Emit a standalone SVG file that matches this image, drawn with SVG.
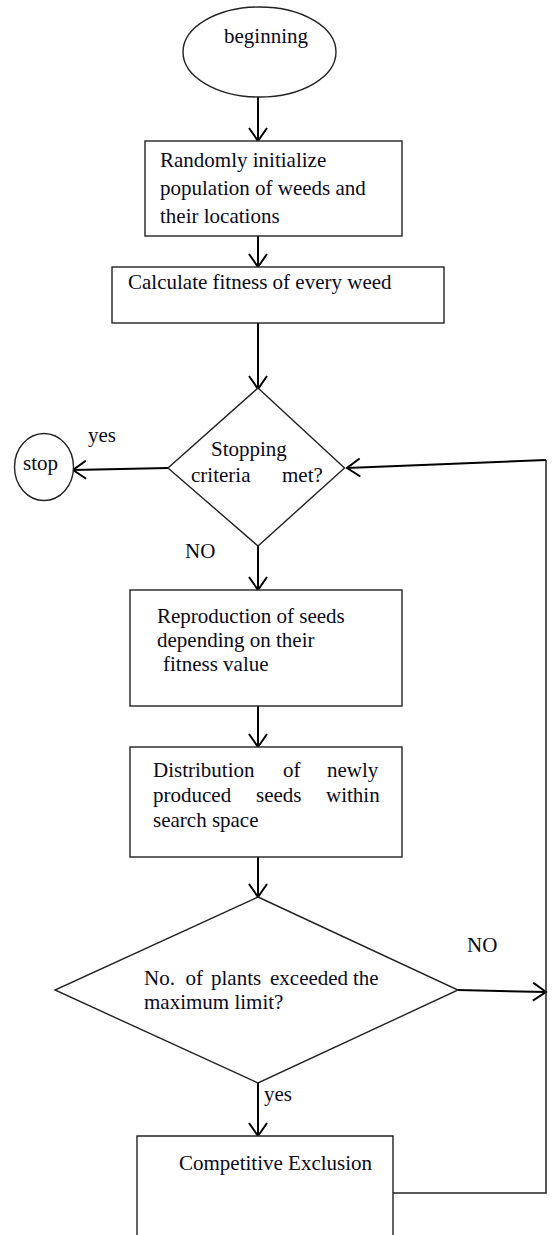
<svg xmlns="http://www.w3.org/2000/svg" width="552" height="1235" viewBox="0 0 552 1235">
<style>
.shape{fill:#fff;stroke:#222;stroke-width:1.4}
.conn{fill:none;stroke:#000;stroke-width:2}
.thin{fill:none;stroke:#222;stroke-width:1.5}
text{font-size:21px;fill:#0a0a1a}
</style>
<defs>
<marker id="arr" viewBox="0 0 16 20" refX="14" refY="10" markerWidth="16" markerHeight="20" markerUnits="userSpaceOnUse" orient="auto">
<path d="M1,1 L14,10 L1,19" fill="none" stroke="#000" stroke-width="2"/>
</marker>
</defs>
<rect width="552" height="1235" fill="#fff"/>
<g id="connectors">
<line class="conn" x1="258" y1="97" x2="258" y2="141" marker-end="url(#arr)"/>
<line class="conn" x1="258" y1="236" x2="258" y2="267" marker-end="url(#arr)"/>
<line class="conn" x1="258" y1="323" x2="258" y2="389" marker-end="url(#arr)"/>
<line class="conn" x1="168" y1="468" x2="73" y2="470" marker-end="url(#arr)"/>
<line class="conn" x1="258" y1="546" x2="258" y2="590" marker-end="url(#arr)"/>
<line class="conn" x1="258" y1="706" x2="258" y2="747" marker-end="url(#arr)"/>
<line class="conn" x1="258" y1="857" x2="258" y2="897" marker-end="url(#arr)"/>
<line class="conn" x1="458" y1="990" x2="546" y2="992" marker-end="url(#arr)"/>
<line class="conn" x1="258" y1="1083" x2="258" y2="1136" marker-end="url(#arr)"/>
<polyline class="thin" points="393,1193 546,1193 546,460"/>
<line class="conn" x1="546" y1="460" x2="347" y2="468" marker-end="url(#arr)"/>
</g>
<g font-family="'Liberation Serif', 'DejaVu Serif', serif">
<g id="begin">
<ellipse class="shape" cx="259.5" cy="52" rx="76.5" ry="45"/>
<text x="224" y="43">beginning</text>
</g>
<g id="init">
<rect class="shape" x="145" y="141" width="257" height="95"/>
<text x="160" y="167">Randomly initialize</text>
<text x="160" y="195">population of weeds and</text>
<text x="160" y="223">their locations</text>
</g>
<g id="fitness">
<rect class="shape" x="112" y="267" width="332" height="56"/>
<text x="128" y="289">Calculate fitness of every weed</text>
</g>
<g id="stopping">
<polygon class="shape" points="258,388 344.5,468 258,546 168,468"/>
<text x="211" y="456">Stopping</text>
<text y="482"><tspan x="191">criteria</tspan><tspan x="282">met?</tspan></text>
</g>
<g id="stop">
<ellipse class="shape" cx="44" cy="467" rx="29.5" ry="33.5"/>
<text x="23" y="470">stop</text>
</g>
<g id="labels">
<text x="88" y="442">yes</text>
<text x="185" y="558">NO</text>
<text x="467" y="952">NO</text>
<text x="264" y="1101">yes</text>
</g>
<g id="reproduction">
<rect class="shape" x="130" y="590" width="272" height="116"/>
<text x="157" y="623">Reproduction of seeds</text>
<text x="157" y="647">depending on their</text>
<text x="163" y="671">fitness value</text>
</g>
<g id="distribution">
<rect class="shape" x="130" y="747" width="272" height="110"/>
<text y="777"><tspan x="153">Distribution</tspan><tspan x="283">of</tspan><tspan x="327">newly</tspan></text>
<text y="802"><tspan x="153">produced</tspan><tspan x="256">seeds</tspan><tspan x="326">within</tspan></text>
<text x="153" y="827">search space</text>
</g>
<g id="plants">
<polygon class="shape" points="258,897 458,990 258,1083 55,990"/>
<text y="985"><tspan x="144">No.</tspan><tspan x="185.5">of</tspan><tspan x="211">plants</tspan><tspan x="270">exceeded</tspan><tspan x="353">the</tspan></text>
<text x="144" y="1009">maximum limit?</text>
</g>
<g id="exclusion">
<path class="shape" d="M137,1240 L137,1136 L393,1136 L393,1240"/>
<text x="179" y="1170">Competitive Exclusion</text>
</g>
</g>
</svg>
